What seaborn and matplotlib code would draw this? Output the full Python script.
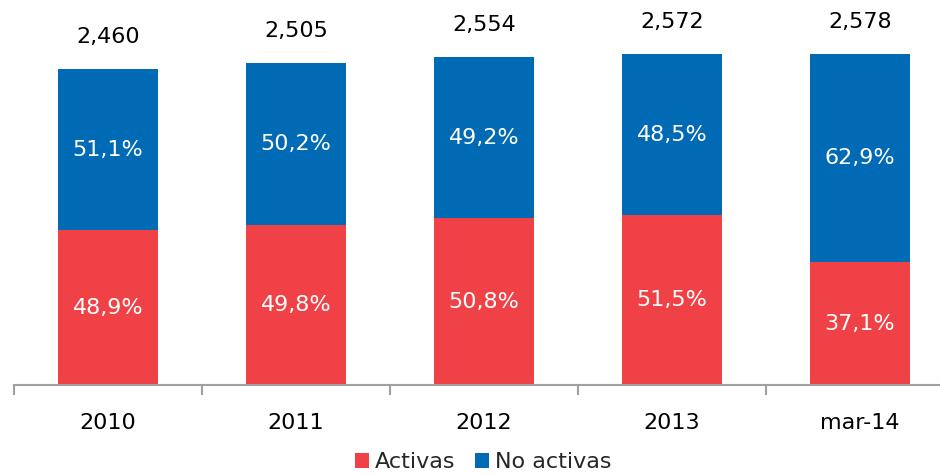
import matplotlib
matplotlib.use("Agg")
import matplotlib.pyplot as plt
import seaborn as sns
import pandas as pd
from matplotlib.patches import Patch

categories = ["2010", "2011", "2012", "2013", "mar-14"]
totals = [2460, 2505, 2554, 2572, 2578]
activas_pct = [48.9, 49.8, 50.8, 51.5, 37.1]
no_activas_pct = [51.1, 50.2, 49.2, 48.5, 62.9]

RED = "#EF4146"
BLUE = "#006AB5"

sns.set_theme(style="white")
plt.rcParams["font.family"] = ["DejaVu Sans"]

df = pd.DataFrame({
    "cat": categories,
    "total": totals,
    "activas": [t * p / 100 for t, p in zip(totals, activas_pct)],
})

fig = plt.figure(figsize=(9.4, 4.75), dpi=100)
ax = fig.add_axes([14 / 940, 90 / 475, 940 / 940, 385 / 475])

sns.barplot(data=df, x="cat", y="total", order=categories, color=BLUE,
            width=0.527, saturation=1, linewidth=0, edgecolor="none", ax=ax)
sns.barplot(data=df, x="cat", y="activas", order=categories, color=RED,
            width=0.527, saturation=1, linewidth=0, edgecolor="none", ax=ax)

ax.set_ylim(0, 2996)
ax.set_xlim(-0.5, 4.5)
ax.set_xlabel("")
ax.set_ylabel("")
ax.set_yticks([])
for s in ["top", "right", "left"]:
    ax.spines[s].set_visible(False)
ax.spines["bottom"].set_color("#A0A0A0")
ax.spines["bottom"].set_linewidth(1.5)

ax.set_xticks(range(len(categories)))
ax.set_xticklabels(categories, fontsize=16, color="black")
ax.tick_params(axis="x", which="major", length=0, pad=20)
ax.set_xticks([i - 0.5 for i in range(len(categories) + 1)], minor=True)
ax.tick_params(axis="x", which="minor", length=7, width=1.5, color="#A0A0A0",
               direction="out", bottom=True)

for i, (t, pa, pn) in enumerate(zip(totals, activas_pct, no_activas_pct)):
    a = t * pa / 100
    ax.text(i, t + 250, f"{t:,}", ha="center", va="center", fontsize=16, color="black")
    ax.text(i, a / 2, f"{pa:.1f}%".replace(".", ","), ha="center", va="center",
            fontsize=16, color="white")
    ax.text(i, a + (t - a) / 2, f"{pn:.1f}%".replace(".", ","), ha="center",
            va="center", fontsize=16, color="white")

handles = [Patch(facecolor=RED, edgecolor="none", label="Activas"),
           Patch(facecolor=BLUE, edgecolor="none", label="No activas")]
fig.legend(handles=handles, loc="center", bbox_to_anchor=(483 / 940, 13 / 475),
           ncol=2, frameon=False, fontsize=16, handlelength=0.65, handleheight=0.65,
           handletextpad=0.25, columnspacing=0.9, borderpad=0)

fig.savefig("out.png", dpi=100)
